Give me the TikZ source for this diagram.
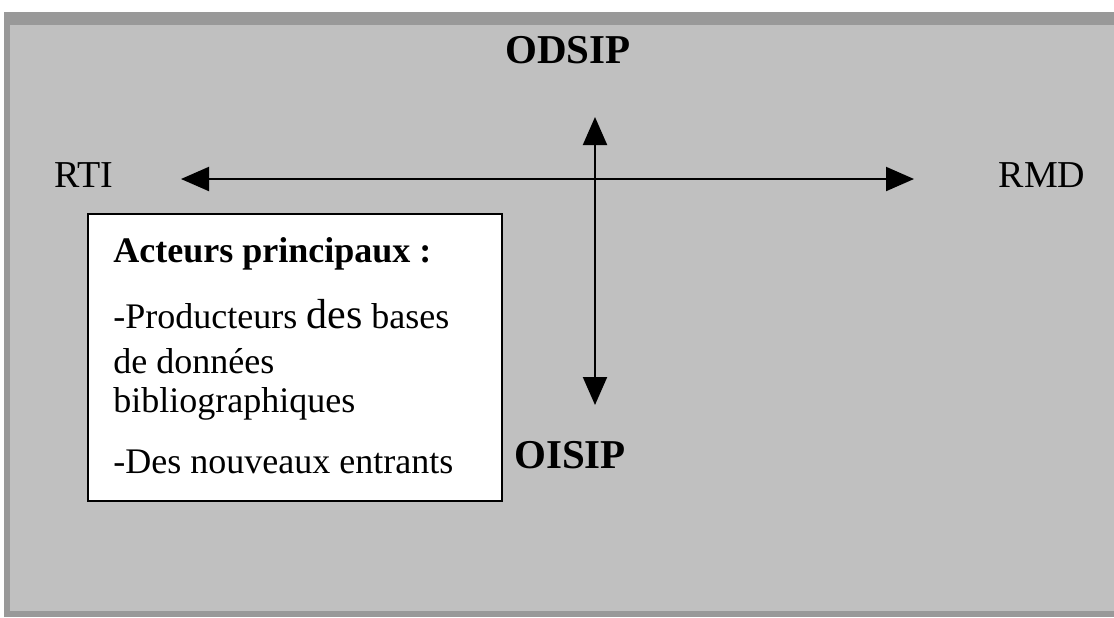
\documentclass[tikz,border=0pt]{standalone}
\usepackage{fontspec}
\setmainfont{Liberation Serif}
\usetikzlibrary{arrows.meta}
\definecolor{framegray}{RGB}{153,153,153}
\definecolor{panelgray}{RGB}{192,192,192}
\begin{document}
\begin{tikzpicture}[x=0.5pt,y=-0.5pt,
  lbl/.style={font=\fontsize{19}{22}\selectfont, inner sep=0, anchor=base},
  blbl/.style={font=\bfseries\fontsize{20.5}{24}\selectfont, inner sep=0, anchor=base},
  txt/.style={font=\fontsize{18}{21}\selectfont, inner sep=0, anchor=base west},
  btxt/.style={txt, font=\bfseries\fontsize{18}{21}\selectfont},
  axisline/.style={line width=1pt, {Triangle[length=14pt,width=12pt]}-{Triangle[length=14pt,width=12pt]}},
  actorbox/.style={draw=black, fill=white, line width=1pt, minimum width=207pt, minimum height=143.5pt, inner sep=0, anchor=north west}]
\useasboundingbox (0,0) rectangle (1114,617);
\fill[white] (0,0) rectangle (1114,617);
\fill[framegray] (4,12) rectangle (1114,617);
\fill[panelgray] (10,25) rectangle (1114,611);
% axes
\coordinate (w) at (181,179);
\coordinate (e) at (914,179);
\coordinate (n) at (595,117);
\coordinate (s) at (595,405);
\draw[axisline] (w) -- (e);
\draw[axisline] (n) -- (s);
% labels
\node[blbl] (odsip) at (568,63) {ODSIP};
\node[blbl] (oisip) at (570,468) {OISIP};
\node[lbl] (rti) at (84,187) {RTI};
\node[lbl] (rmd) at (1042,187) {RMD};
% box
\node[actorbox] (box) at (87,213) {};
\node[btxt] (t1) at (113,262) {Acteurs principaux :};
\node[txt] (t2) at (113,328) {-Producteurs {\fontsize{21}{24}\selectfont des} bases};
\node[txt] (t3) at (113,373) {de données};
\node[txt] (t4) at (113,412) {bibliographiques};
\node[txt] (t5) at (113,473) {-Des nouveaux entrants};
\end{tikzpicture}
\end{document}
